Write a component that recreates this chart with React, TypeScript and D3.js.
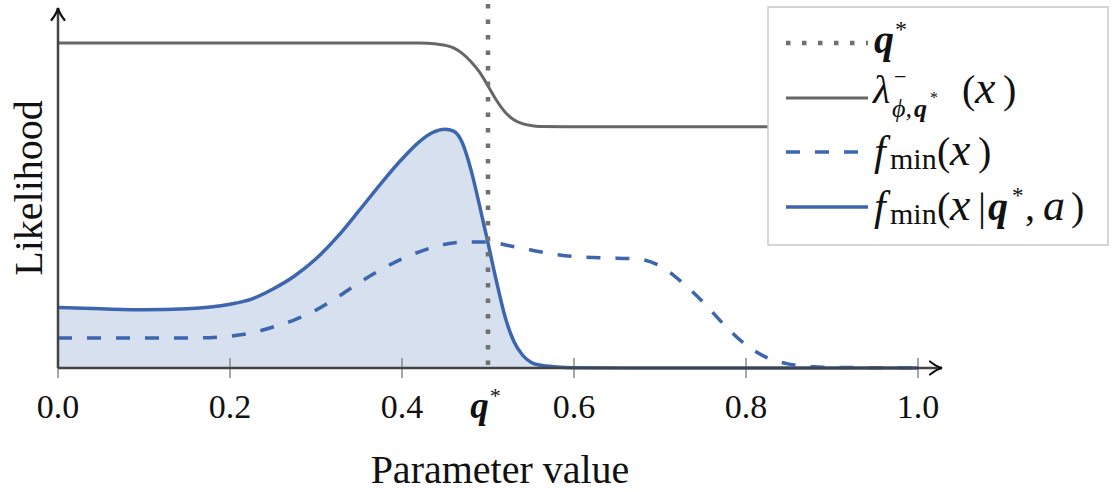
import React from 'react';
import * as d3 from 'd3';

// tick values on the x axis and the marked parameter q*
const xTicks = [0, 0.2, 0.4, 0.6, 0.8, 1.0];
const qStar = 0.5;

// lambda^-_{phi,q*}(x) : the grey step
const boundCurve: [number, number][] = [
  [0, 1], [0.2, 1], [0.42, 1], [0.44, 0.997], [0.45, 0.993], [0.46, 0.985], [0.47, 0.968],
  [0.48, 0.943], [0.49, 0.911], [0.5, 0.868], [0.51, 0.823], [0.52, 0.787], [0.53, 0.764],
  [0.54, 0.752], [0.55, 0.746], [0.56, 0.743], [0.6, 0.742], [1, 0.742],
];

// f_min(x) : dashed
const fminCurve: [number, number][] = [
  [0, 0.092], [0.1, 0.092], [0.15, 0.092], [0.2, 0.098], [0.225, 0.108], [0.25, 0.126],
  [0.275, 0.148], [0.3, 0.178], [0.325, 0.218], [0.35, 0.262], [0.375, 0.302],
  [0.4, 0.336], [0.425, 0.362], [0.45, 0.381], [0.475, 0.388], [0.5, 0.388],
  [0.525, 0.376], [0.55, 0.363], [0.575, 0.351], [0.6, 0.343], [0.65, 0.338],
  [0.675, 0.335], [0.7, 0.314], [0.725, 0.265], [0.75, 0.203], [0.775, 0.132],
  [0.8, 0.071], [0.825, 0.031], [0.85, 0.012], [0.875, 0.005], [0.9, 0.002],
  [0.95, 0.001], [1, 0.001],
];

// f_min(x | q*, a) : solid blue with filled area
const condCurve: [number, number][] = [
  [0, 0.186], [0.05, 0.182], [0.1, 0.179], [0.15, 0.182], [0.2, 0.196], [0.225, 0.212],
  [0.25, 0.243], [0.275, 0.283], [0.3, 0.336], [0.325, 0.404], [0.35, 0.484],
  [0.375, 0.566], [0.4, 0.643], [0.42, 0.696], [0.435, 0.724], [0.45, 0.735],
  [0.46, 0.729], [0.47, 0.694], [0.48, 0.612], [0.49, 0.502], [0.5, 0.385],
  [0.51, 0.265], [0.52, 0.156], [0.53, 0.082], [0.54, 0.04], [0.55, 0.018],
  [0.56, 0.009], [0.58, 0.003], [0.6, 0.001], [0.7, 0], [1, 0],
];

const FONT = "'Liberation Serif', 'DejaVu Serif', serif";
const BLUE = '#3d66ae';
const GREY = '#666666';

export default function App() {
  const width = 1114;
  const height = 492;

  const x = d3.scaleLinear().domain([0, 1]).range([58, 918]);
  const y = d3.scaleLinear().domain([0, 1]).range([368, 43]);

  const line = d3.line<[number, number]>()
    .x(d => x(d[0]))
    .y(d => y(d[1]))
    .curve(d3.curveMonotoneX);

  const area = d3.area<[number, number]>()
    .x(d => x(d[0]))
    .y0(y(0))
    .y1(d => y(d[1]))
    .curve(d3.curveMonotoneX);

  const x0 = x(0);
  const y0 = y(0);
  const xEnd = 942;
  const yTop = 8;

  // legend rows
  const lgX1 = 786, lgX2 = 868;
  const rowY = [43, 98, 152, 207];

  return (
    <svg width={width} height={height} style={{ position: 'absolute', left: 0, top: 0 }}
      fontFamily={FONT}>
      <rect width={width} height={height} fill="#fff" />

      {/* filled area under conditional */}
      <path d={area(condCurve) || ''} fill="#d6e0ef" />

      {/* ticks */}
      {xTicks.map(t => (
        <line key={t} x1={x(t)} x2={x(t)} y1={y0 - 10} y2={y0 + 10} stroke="#8a8a8a" strokeWidth={1.5} />
      ))}

      <path d={line(fminCurve) || ''} fill="none" stroke={BLUE} strokeWidth={3.5}
        strokeDasharray="14 15" />
      <path d={line(boundCurve) || ''} fill="none" stroke={GREY} strokeWidth={3} />
      <path d={line(condCurve) || ''} fill="none" stroke={BLUE} strokeWidth={3.5} />

      {/* axes */}
      <line x1={x0} x2={xEnd} y1={y0} y2={y0} stroke="#444" strokeWidth={2.5} />
      <line x1={x0} x2={x0} y1={y0} y2={yTop} stroke="#444" strokeWidth={2.5} />
      <path d={`M${xEnd - 12},${y0 - 6.5} Q${xEnd - 5},${y0 - 1} ${xEnd},${y0} Q${xEnd - 5},${y0 + 1} ${xEnd - 12},${y0 + 6.5}`}
        fill="none" stroke="#111" strokeWidth={2.2} strokeLinecap="round" />
      <path d={`M${x0 - 6.5},${yTop + 12} Q${x0 - 1},${yTop + 5} ${x0},${yTop} Q${x0 + 1},${yTop + 5} ${x0 + 6.5},${yTop + 12}`}
        fill="none" stroke="#111" strokeWidth={2.2} strokeLinecap="round" />

      {/* q* marker */}
      <line x1={x(qStar)} x2={x(qStar)} y1={4} y2={y0} stroke="#707070" strokeWidth={4.5}
        strokeDasharray="4.5 11" />

      {/* tick labels */}
      {xTicks.map(t => (
        <text key={t} x={x(t)} y={418} textAnchor="middle" fontSize={34} fill="#111">{t.toFixed(1)}</text>
      ))}
      <text x={x(qStar) - 3} y={418} textAnchor="middle" fontSize={37} fill="#111" fontStyle="italic" fontWeight="bold">
        q<tspan fontSize={22} fontWeight="normal" dy={-15}>*</tspan>
      </text>

      {/* axis titles */}
      <text x={500} y={483} textAnchor="middle" fontSize={40} fill="#111">Parameter value</text>
      <text transform="translate(42,188) rotate(-90)" textAnchor="middle" fontSize={40} fill="#111">Likelihood</text>

      {/* legend */}
      <rect x={768} y={7} width={340} height={238} fill="#fff" stroke="#c8c8c8" strokeWidth={1.5} />
      <line x1={lgX1} x2={lgX2} y1={rowY[0]} y2={rowY[0]} stroke="#707070" strokeWidth={4.5} strokeDasharray="4.5 11.5" />
      <line x1={lgX1} x2={lgX2} y1={rowY[1]} y2={rowY[1]} stroke={GREY} strokeWidth={3} />
      <line x1={lgX1} x2={lgX2} y1={rowY[2]} y2={rowY[2]} stroke={BLUE} strokeWidth={3.5} strokeDasharray="14 15" />
      <line x1={lgX1} x2={lgX2} y1={rowY[3]} y2={rowY[3]} stroke={BLUE} strokeWidth={3.5} />

      <g fill="#111">
        {/* q* */}
        <text x={874} y={53} fontSize={40} fontStyle="italic" fontWeight="bold">
          q<tspan x={895} y={37} fontSize={24} fontStyle="normal" fontWeight="normal">*</tspan>
        </text>

        {/* lambda^-_{phi, q*}(x) */}
        <text x={873} y={103} fontSize={40} fontStyle="italic">
          λ
          <tspan x={894} y={84} fontSize={22} fontStyle="normal">−</tspan>
          <tspan x={892} y={117} fontSize={26}>ϕ,</tspan>
          <tspan x={914} y={117} fontSize={26} fontWeight="bold">q</tspan>
          <tspan x={930} y={103} fontSize={16} fontStyle="normal">*</tspan>
          <tspan x={962} y={103} fontStyle="normal">(</tspan>
          <tspan x={975} y={103} fontSize={46}>x</tspan>
          <tspan x={1003} y={103} fontStyle="normal">)</tspan>
        </text>

        {/* f_min(x) */}
        <text x={874} y={165} fontSize={42} fontStyle="italic">
          f
          <tspan x={890} y={169} fontSize={30} fontStyle="normal">min</tspan>
          <tspan x={937} y={165} fontSize={40} fontStyle="normal">(</tspan>
          <tspan x={950} y={165} fontSize={46}>x</tspan>
          <tspan x={978} y={165} fontSize={40} fontStyle="normal">)</tspan>
        </text>

        {/* f_min(x | q*, a) */}
        <text x={874} y={220} fontSize={42} fontStyle="italic">
          f
          <tspan x={890} y={224} fontSize={30} fontStyle="normal">min</tspan>
          <tspan x={937} y={220} fontSize={40} fontStyle="normal">(</tspan>
          <tspan x={950} y={220} fontSize={46}>x</tspan>
          <tspan x={978} y={220} fontSize={40} fontStyle="normal">|</tspan>
          <tspan x={988} y={220} fontSize={40} fontWeight="bold">q</tspan>
          <tspan x={1012} y={203} fontSize={23} fontStyle="normal">*</tspan>
          <tspan x={1025} y={220} fontSize={40} fontStyle="normal">,</tspan>
          <tspan x={1043} y={220} fontSize={44}>a</tspan>
          <tspan x={1071} y={220} fontSize={40} fontStyle="normal">)</tspan>
        </text>
      </g>
    </svg>
  );
}
